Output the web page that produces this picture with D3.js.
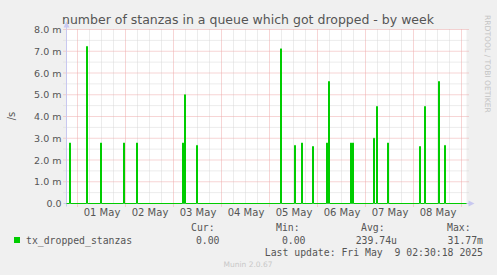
<!DOCTYPE html>
<html>
<head>
<meta charset="utf-8">
<script src="https://cdn.jsdelivr.net/npm/d3@7"></script>
<style>
  body { margin: 0; background: #f0f0f0; }
  svg { display: block; }
</style>
</head>
<body>
<svg id="chart" width="497" height="275"></svg>
<script>
// week window of the munin graph
const startTime = "2025-04-30T18:30";
const endTime = "2025-05-09T02:30";

// non-zero samples (30 min steps), everything else read as 0
const spikeTimes = [
    "2025-04-30T20:00", "2025-05-01T04:30", "2025-05-01T11:30", "2025-05-01T23:00",
    "2025-05-02T05:30", "2025-05-03T04:30", "2025-05-03T05:30", "2025-05-03T11:30",
    "2025-05-05T05:30", "2025-05-05T12:30", "2025-05-05T16:00", "2025-05-05T21:30",
    "2025-05-06T04:30", "2025-05-06T05:30", "2025-05-06T16:30", "2025-05-06T17:30",
    "2025-05-07T04:00", "2025-05-07T05:30", "2025-05-07T11:00", "2025-05-08T03:00",
    "2025-05-08T05:30", "2025-05-08T12:30", "2025-05-08T15:30"
];
const spikeValues = [
    2.78e-3, 7.22e-3, 2.78e-3, 2.78e-3,
    2.78e-3, 2.78e-3, 5.0e-3, 2.67e-3,
    7.11e-3, 2.67e-3, 2.78e-3, 2.62e-3,
    2.78e-3, 5.61e-3, 2.78e-3, 2.78e-3,
    3.0e-3, 4.46e-3, 2.78e-3, 2.62e-3,
    4.46e-3, 5.61e-3, 2.67e-3
];

const dayLabels = ["01 May", "02 May", "03 May", "04 May", "05 May", "06 May", "07 May", "08 May"];
const yTicks = [0, 1e-3, 2e-3, 3e-3, 4e-3, 5e-3, 6e-3, 7e-3, 8e-3];

const legendName = "tx_dropped_stanzas";
const legendHeads = ["Cur:", "Min:", "Avg:", "Max:"];
const legendValues = ["0.00", "0.00", "239.74u", "31.77m"];
const lastUpdate = "Last update: Fri May  9 02:30:18 2025";

const parse = d3.timeParse("%Y-%m-%dT%H:%M");
const svg = d3.select("#chart");

const pLeft = 66.5, pRight = 466.5, pTop = 29.5, pBottom = 203.5;
const t0 = parse(startTime), t1 = parse(endTime);

const xScale = d3.scaleTime().domain([t0, t1]).range([pLeft, pRight]);
const yScale = d3.scaleLinear().domain([0, 8e-3]).range([pBottom, pTop]);

// plot background
svg.append("rect")
    .attr("x", pLeft).attr("y", pTop)
    .attr("width", pRight - pLeft).attr("height", pBottom - pTop)
    .attr("fill", "#ffffff");

// minor grid
const minorV = d3.timeHour.every(6).range(t0, t1).filter(d => d.getHours() !== 0);
svg.append("g").selectAll("line").data(minorV).join("line")
    .attr("x1", d => xScale(d)).attr("x2", d => xScale(d))
    .attr("y1", pTop).attr("y2", pBottom)
    .attr("stroke", "#d8d8d8").attr("stroke-dasharray", "1,1");

const minorH = d3.range(0.5e-3, 8e-3, 1e-3);
svg.append("g").selectAll("line").data(minorH).join("line")
    .attr("x1", pLeft - 3).attr("x2", pRight + 2)
    .attr("y1", d => yScale(d)).attr("y2", d => yScale(d))
    .attr("stroke", "#d8d8d8").attr("stroke-dasharray", "1,1");

// major grid
const majorV = d3.timeDay.range(t0, t1);
svg.append("g").selectAll("line").data(majorV).join("line")
    .attr("x1", d => xScale(d)).attr("x2", d => xScale(d))
    .attr("y1", pTop).attr("y2", pBottom + 3)
    .attr("stroke", "#eeaaaa").attr("stroke-dasharray", "1,1");

svg.append("g").selectAll("line").data(yTicks.slice(1)).join("line")
    .attr("x1", pLeft - 3).attr("x2", pRight + 2)
    .attr("y1", d => yScale(d)).attr("y2", d => yScale(d))
    .attr("stroke", "#eeaaaa").attr("stroke-dasharray", "1,1");

// axes lines + arrows
svg.append("line")
    .attr("x1", pLeft).attr("x2", pLeft).attr("y1", pBottom + 3).attr("y2", pTop - 3)
    .attr("stroke", "#c8c8f0");
svg.append("path")
    .attr("d", `M${pLeft - 3},${pTop - 2} L${pLeft + 3},${pTop - 2} L${pLeft},${pTop - 8} Z`)
    .attr("fill", "#c8c8f0");
svg.append("line")
    .attr("x1", pLeft - 3).attr("x2", pRight + 3).attr("y1", pBottom).attr("y2", pBottom)
    .attr("stroke", "#c8c8f0");
svg.append("path")
    .attr("d", `M${pRight + 2},${pBottom - 3} L${pRight + 2},${pBottom + 3} L${pRight + 8},${pBottom} Z`)
    .attr("fill", "#c8c8f0");

// y labels
const yAxis = svg.append("g")
    .attr("transform", `translate(${pLeft - 5},0)`)
    .call(d3.axisLeft(yScale).tickValues(yTicks).tickSize(0).tickPadding(0)
        .tickFormat(d => d === 0 ? "0.0" : (d * 1000).toFixed(1) + " m"));
yAxis.select(".domain").remove();
yAxis.selectAll("text")
    .attr("font-family", "DejaVu Sans").attr("font-size", "9.5px").attr("fill", "#555");

// x labels (centred on noon)
const noons = dayLabels.map((l, i) => d3.timeHour.offset(d3.timeDay.offset(d3.timeDay.ceil(t0), i), 12));
const xAxis = svg.append("g")
    .attr("transform", `translate(0,${pBottom + 4})`)
    .call(d3.axisBottom(xScale).tickValues(noons).tickSize(0).tickPadding(1)
        .tickFormat((d, i) => dayLabels[i]));
xAxis.select(".domain").remove();
xAxis.selectAll("text")
    .attr("font-family", "DejaVu Sans").attr("font-size", "10px").attr("fill", "#555");

// series
const points = [[t0, 0]];
spikeTimes.forEach((t, i) => {
    const d = parse(t);
    points.push([d, spikeValues[i]]);
    points.push([d3.timeMinute.offset(d, 30), 0]);
});
points.push([t1, 0]);

const lineMaker = d3.line()
    .x(d => xScale(d[0]))
    .y(d => yScale(d[1]))
    .curve(d3.curveStepAfter);

svg.append("path")
    .datum(points)
    .attr("fill", "none")
    .attr("stroke", "#00cc00")
    .attr("stroke-width", 1)
    .attr("d", lineMaker);

// title
svg.append("text")
    .attr("x", 248).attr("y", 24)
    .attr("text-anchor", "middle")
    .attr("font-family", "DejaVu Sans").attr("font-size", "12.5px")
    .attr("fill", "#555")
    .text("number of stanzas in a queue which got dropped - by week");

// unit label
svg.append("text")
    .attr("transform", "translate(15,116) rotate(-90)")
    .attr("text-anchor", "middle")
    .attr("font-family", "DejaVu Sans").attr("font-size", "10px")
    .attr("fill", "#555")
    .text("/s");

// watermark
svg.append("text")
    .attr("transform", "translate(485,15) rotate(90)")
    .attr("font-family", "DejaVu Sans").attr("font-size", "7.6px")
    .attr("fill", "#c4c4c4")
    .text("RRDTOOL / TOBI OETIKER");

// legend
const mono = "DejaVu Sans Mono";
svg.append("rect")
    .attr("x", 14).attr("y", 237).attr("width", 6).attr("height", 6)
    .attr("fill", "#00cc00");
svg.append("text")
    .attr("x", 26).attr("y", 244)
    .attr("font-family", mono).attr("font-size", "9.8px").attr("fill", "#555")
    .text(legendName);

const headX = [191, 276, 361, 447];
const valRight = [219.5, 305.5, 397, 483];
svg.append("g").selectAll("text").data(legendHeads).join("text")
    .attr("x", (d, i) => headX[i]).attr("y", 231)
    .attr("font-family", mono).attr("font-size", "9.8px").attr("fill", "#555")
    .text(d => d);
svg.append("g").selectAll("text").data(legendValues).join("text")
    .attr("x", (d, i) => valRight[i]).attr("y", 244)
    .attr("text-anchor", "end")
    .attr("font-family", mono).attr("font-size", "9.8px").attr("fill", "#555")
    .text(d => d);

svg.append("text")
    .attr("x", 483).attr("y", 256)
    .attr("text-anchor", "end")
    .style("white-space", "pre")
    .attr("font-family", mono).attr("font-size", "9.8px").attr("fill", "#555")
    .text(lastUpdate);

svg.append("text")
    .attr("x", 248).attr("y", 267)
    .attr("text-anchor", "middle")
    .attr("font-family", "DejaVu Sans").attr("font-size", "7.5px")
    .attr("fill", "#c8c8c8")
    .text("Munin 2.0.67");
</script>
</body>
</html>
